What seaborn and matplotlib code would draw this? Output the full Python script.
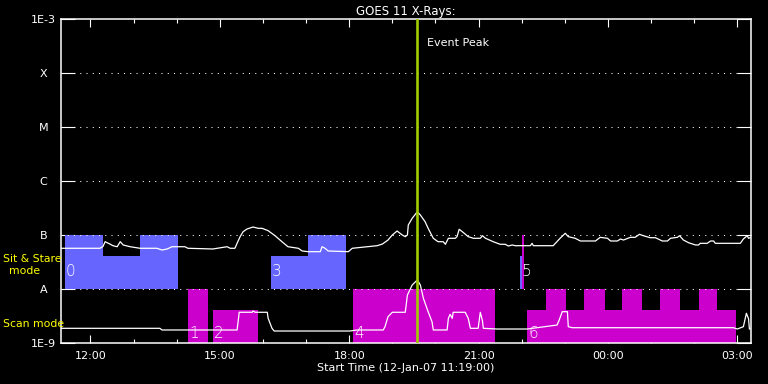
import matplotlib
matplotlib.use("Agg")
import matplotlib.pyplot as plt
import pandas as pd
import seaborn as sns
import numpy as np
from matplotlib.ticker import FuncFormatter, NullLocator

# hours since 12-Jan-07 00:00, log10 flux (W/m^2)
long_hours = [11.32, 12.22, 12.29, 12.34, 12.45, 12.52, 12.62, 12.69, 12.76, 12.92,
              13.15, 13.54, 13.66, 13.78, 13.89, 14.19, 14.26, 14.84, 15.08, 15.17,
              15.24, 15.35, 15.40, 15.47, 15.54, 15.63, 15.77, 15.89, 15.98, 16.12,
              16.28, 16.44, 16.58, 16.82, 16.91, 17.05, 17.33, 17.37, 17.44, 17.51,
              17.98, 18.07, 18.42, 18.65, 18.77, 18.90, 19.00, 19.11, 19.23, 19.30,
              19.35, 19.37, 19.46, 19.58, 19.65, 19.76, 19.83, 19.95, 20.06, 20.18,
              20.23, 20.30, 20.46, 20.50, 20.55, 20.64, 20.76, 20.88, 21.04, 21.09,
              21.16, 21.34, 21.50, 21.62, 21.69, 21.78, 21.85, 22.20, 22.24, 22.27,
              22.73, 22.89, 23.01, 23.08, 23.24, 23.36, 23.71, 23.82, 23.99, 24.06,
              24.22, 24.29, 24.36, 24.52, 24.63, 24.73, 24.82, 24.98, 25.10, 25.26,
              25.38, 25.45, 25.61, 25.66, 25.75, 25.87, 26.03, 26.10, 26.14, 26.30,
              26.38, 26.45, 26.49, 27.07, 27.14, 27.23, 27.26, 27.30]
long_flux = [-7.246, -7.246, -7.213, -7.124, -7.167, -7.198, -7.217, -7.124, -7.185, -7.217,
             -7.246, -7.246, -7.278, -7.259, -7.217, -7.217, -7.246, -7.259, -7.228, -7.217,
             -7.246, -7.246, -7.154, -7.031, -6.939, -6.889, -6.852, -6.876, -6.876, -6.920,
             -7.013, -7.124, -7.217, -7.246, -7.296, -7.309, -7.309, -7.217, -7.246, -7.296,
             -7.309, -7.246, -7.217, -7.198, -7.167, -7.093, -7.000, -6.926, -7.000, -7.031,
             -7.000, -6.815, -6.691, -6.569, -6.630, -6.754, -6.876, -7.061, -7.124, -7.124,
             -7.172, -7.061, -7.061, -7.031, -6.894, -6.950, -7.031, -7.061, -7.061, -7.013,
             -7.061, -7.124, -7.172, -7.172, -7.204, -7.185, -7.198, -7.198, -7.154, -7.198,
             -7.198, -7.061, -6.968, -7.031, -7.061, -7.111, -7.111, -7.043, -7.061, -7.111,
             -7.111, -7.074, -7.093, -7.043, -7.043, -6.987, -7.013, -7.050, -7.050, -7.111,
             -7.111, -7.061, -7.043, -7.013, -7.093, -7.143, -7.185, -7.185, -7.154, -7.154,
             -7.111, -7.111, -7.154, -7.154, -7.074, -7.013, -7.061, -7.050]

short_hours = [11.32, 13.61, 13.66, 15.40, 15.45, 15.75, 15.77, 15.82, 16.10, 16.12,
               16.21, 16.26, 18.02, 18.18, 18.79, 18.83, 18.90, 19.00, 19.30, 19.35,
               19.46, 19.58, 19.65, 19.72, 19.83, 19.92, 19.95, 20.27, 20.30, 20.34,
               20.39, 20.41, 20.69, 20.76, 20.81, 20.99, 21.04, 21.09, 21.11, 21.43,
               22.13, 22.82, 22.87, 22.94, 23.06, 23.08, 23.17, 26.91, 27.00, 27.14,
               27.21, 27.26, 27.28, 27.30]
short_flux = [-8.728, -8.728, -8.759, -8.759, -8.431, -8.431, -8.407, -8.431, -8.431, -8.543,
              -8.728, -8.778, -8.778, -8.759, -8.759, -8.698, -8.513, -8.431, -8.431, -8.111,
              -7.926, -7.833, -7.926, -8.172, -8.420, -8.606, -8.759, -8.759, -8.543, -8.469,
              -8.543, -8.431, -8.431, -8.543, -8.728, -8.728, -8.431, -8.590, -8.728, -8.741,
              -8.741, -8.667, -8.574, -8.420, -8.420, -8.698, -8.717, -8.717, -8.741, -8.698,
              -8.450, -8.550, -8.741, -8.741]

# Sit & Stare mode blocks
sas_start = [11.41, 12.29, 13.15, 16.19, 17.05, 21.97]
sas_end = [12.29, 13.15, 14.03, 17.05, 17.93, 22.01]
sas_top = [-7.0, -7.389, -7.0, -7.389, -7.0, -7.389]

# Scan mode blocks
scan_start = [14.26, 14.84, 18.09, 22.01, 22.13, 22.57, 23.03, 23.45, 23.92, 24.33,
              24.80, 25.21, 25.68, 26.10, 26.54]
scan_end = [14.73, 15.89, 21.39, 22.06, 22.57, 23.03, 23.45, 23.92, 24.33, 24.80,
            25.21, 25.68, 26.10, 26.54, 26.98]
scan_bottom = [-9, -9, -9, -8, -9, -9, -9, -9, -9, -9, -9, -9, -9, -9, -9]
scan_top = [-8.0, -8.389, -8.0, -7.0, -8.389, -8.0, -8.389, -8.0, -8.389, -8.0,
            -8.389, -8.0, -8.389, -8.0, -8.389]

block_labels = ['0', '1', '2', '3', '4', '5', '6']
label_hours = [11.43, 14.30, 14.86, 16.20, 18.11, 22.00, 22.15]
label_level = [-7.667, -8.815, -8.815, -7.667, -8.815, -7.667, -8.815]

peak_hour = 19.58
ylevels = [1e-9, 1e-8, 1e-7, 1e-6, 1e-5, 1e-4, 1e-3]
ylabels = ['1E-9', 'A', 'B', 'C', 'M', 'X', '1E-3']
xmajor = [12, 15, 18, 21, 24, 27]

sns.set_style("dark")
plt.rcParams['font.family'] = ['DejaVu Sans']

BLUE = '#6666ff'
MAG = '#cc00cc'
GREEN = '#a0cc00'
YEL = '#ffff00'

fig = plt.figure(figsize=(7.68, 3.84), dpi=100, facecolor='black')
ax = fig.add_axes([61 / 768, 41 / 384, 690 / 768, 324 / 384])
ax.set_facecolor('black')

for s, e, t in zip(sas_start, sas_end, sas_top):
    ax.fill_between([s, e], 1e-8, 10 ** t, color=BLUE, lw=0, zorder=1)
for s, e, b, t in zip(scan_start, scan_end, scan_bottom, scan_top):
    ax.fill_between([s, e], 10 ** b, 10 ** t, color=MAG, lw=0, zorder=1)

df_long = pd.DataFrame({'hour': long_hours, 'flux': 10 ** np.array(long_flux)})
df_short = pd.DataFrame({'hour': short_hours, 'flux': 10 ** np.array(short_flux)})
sns.lineplot(data=df_long, x='hour', y='flux', color='white', lw=0.9,
             estimator=None, ax=ax, zorder=3)
sns.lineplot(data=df_short, x='hour', y='flux', color='white', lw=0.9,
             estimator=None, ax=ax, zorder=3)

# dotted level lines
for lv in ylevels[1:-1]:
    ax.axhline(lv, color='white', lw=0.75, ls=(0, (1, 5)), zorder=2)

ax.axvline(peak_hour, color=GREEN, lw=1.9, zorder=4)
ax.text(19.80, 10 ** -3.444, 'Event Peak', color='white', fontsize=8, va='center', ha='left')

for lab, h, lv in zip(block_labels, label_hours, label_level):
    ax.text(h, 10 ** lv, lab, color='white', fontsize=11, fontweight='light',
            ha='left', va='center', zorder=5)

ax.set_yscale('log')
ax.set_ylim(1e-9, 1e-3)
ax.set_xlim(11.317, 27.317)
ax.set_yticks(ylevels)
ax.set_yticklabels(ylabels)
ax.yaxis.set_minor_locator(NullLocator())
ax.set_xticks(xmajor)
ax.set_xticks(range(12, 28), minor=True)
ax.xaxis.set_major_formatter(FuncFormatter(lambda v, p: f"{int(v) % 24:02d}:00"))
ax.set_xlabel('')
ax.set_ylabel('')
ax.grid(False)

ax.tick_params(axis='x', which='major', direction='in', length=5.5, width=0.8,
               color='white', labelcolor='white', labelsize=8, top=True, bottom=True, pad=6)
ax.tick_params(axis='x', which='minor', direction='in', length=3, width=0.8,
               color='white', top=True, bottom=True)
ax.tick_params(axis='y', which='major', direction='in', length=10, width=0.8,
               color='white', labelcolor='white', labelsize=8, left=True, right=True, pad=12.5)
for lbl in ax.get_yticklabels():
    lbl.set_horizontalalignment('center')

for sp in ax.spines.values():
    sp.set_color('white')
    sp.set_linewidth(1.1)
    sp.set_visible(True)

fig.text(406 / 768, 1 - 11 / 384, 'GOES 11 X-Rays:', color='white', fontsize=8.5,
         ha='center', va='center')
fig.text(406 / 768, 1 - 368 / 384, 'Start Time (12-Jan-07 11:19:00)', color='white',
         fontsize=8, ha='center', va='center')
fig.text(3 / 768, 1 - 259 / 384, 'Sit & Stare', color=YEL, fontsize=7.8, ha='left', va='center')
fig.text(25 / 768, 1 - 271 / 384, 'mode', color=YEL, fontsize=7.8, ha='center', va='center')
fig.text(3 / 768, 1 - 324 / 384, 'Scan mode', color=YEL, fontsize=7.8, ha='left', va='center')

fig.savefig('out.png', dpi=100, facecolor='black')
